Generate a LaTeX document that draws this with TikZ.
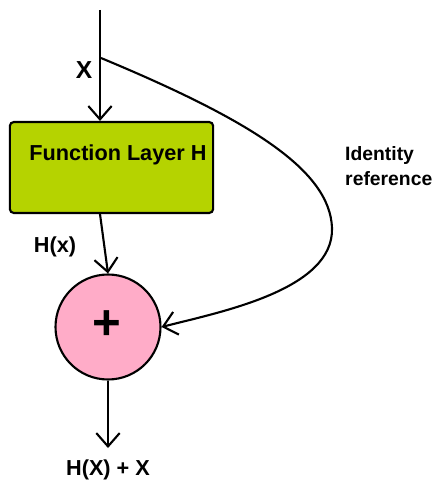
\documentclass[tikz,border=0pt]{standalone}
\usepackage{fontspec}
\setmainfont{Liberation Sans}
\usetikzlibrary{arrows.meta}

\definecolor{layerGreen}{RGB}{181,211,0}
\definecolor{sumPink}{RGB}{255,172,200}

\begin{document}
\begin{tikzpicture}[
    x=0.03cm, y=-0.03cm,
    every node/.style={font=\fontsize{18.5}{22}\selectfont\bfseries},
    layerNode/.style={rectangle, draw, line width=1.8pt, fill=layerGreen, rounded corners=1.2mm, minimum width=6.1cm, minimum height=2.73cm},
    sumNode/.style={circle, draw, line width=1.8pt, fill=sumPink, minimum size=3.15cm, inner sep=0pt},
    flow/.style={draw, line width=1.8pt, -{Straight Barb[length=4mm, width=7mm, line width=1.8pt]}}
]
    \useasboundingbox (0,0) rectangle (435,481);

    \coordinate (inTop) at (100,10);
    \coordinate (split) at (101,58);
    \node[layerNode] (layer) at (111.5,167.5) {};
    \node (layerTxt) at (118,155) {Function Layer H};
    \node[sumNode] (sum) at (108,327) {};
    \node[font=\fontsize{42}{42}\selectfont\bfseries] (plus) at (107,325) {+};
    \coordinate (outEnd) at (108,448);

    \node[font=\fontsize{21}{24}\selectfont\bfseries] (xLbl) at (84,70) {X};
    \node (hLbl) at (55,247) {H(x)};
    \node (outLbl) at (108,470) {H(X) + X};
    \node[anchor=west, align=left, inner sep=0pt, font=\fontsize{16.5}{22}\selectfont\bfseries] (idLbl) at (345,166) {Identity\\reference};

    \draw[flow] (inTop) -- (layer.north -| inTop);
    \draw[flow] (layer.south -| inTop) -- (sum.north);
    \draw[flow] (sum.south) -- (outEnd);

    % skip connection
    \draw[flow] (split) .. controls (250,120) and (330,170) .. (332,228)
        .. controls (334,290) and (220,312) .. (sum.east);
\end{tikzpicture}
\end{document}
